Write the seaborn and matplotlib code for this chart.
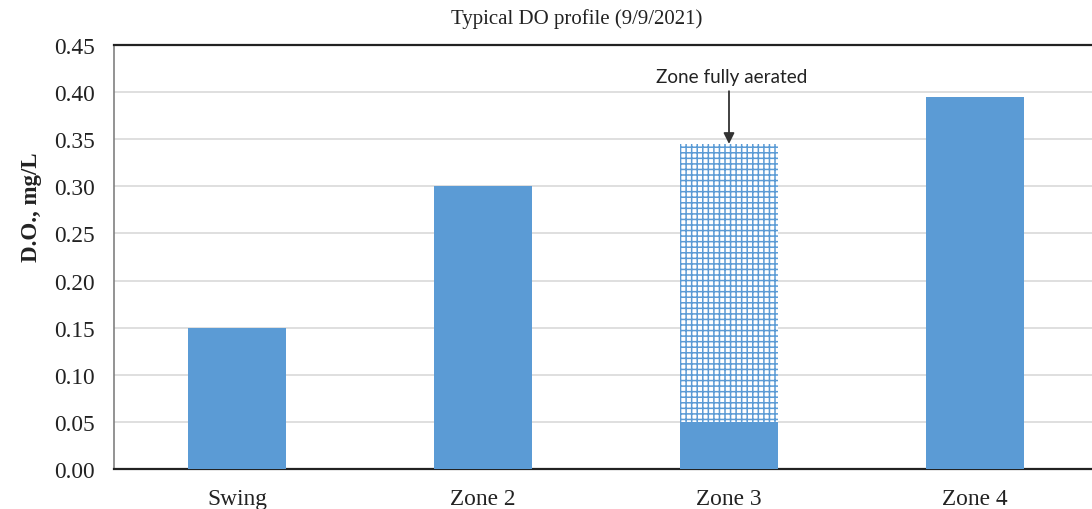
import matplotlib
matplotlib.use("Agg")
import matplotlib.pyplot as plt
import seaborn as sns
import pandas as pd

categories = ["Swing", "Zone 2", "Zone 3", "Zone 4"]
do_values = [0.15, 0.30, 0.05, 0.395]
aerated_total = [0.0, 0.0, 0.345, 0.0]
title = "Typical DO profile (9/9/2021)"
ylabel = "D.O., mg/L"
note = "Zone fully aerated"
yticks = [0.00, 0.05, 0.10, 0.15, 0.20, 0.25, 0.30, 0.35, 0.40, 0.45]

sns.set_theme(style="white")
plt.rcParams['font.family'] = ['Liberation Serif', 'DejaVu Serif']
plt.rcParams['hatch.linewidth'] = 1.1
plt.rcParams['hatch.color'] = '#5B9BD5'

df = pd.DataFrame({"cat": categories, "val": do_values, "tot": aerated_total})

fig = plt.figure(figsize=(10.92, 5.10), dpi=100)
ax = fig.add_axes([114/1092, 1-470/510, 984/1092, 424/510])

blue = "#5B9BD5"
sns.barplot(data=df, x="cat", y="tot", ax=ax, color="white", saturation=1,
            width=0.4, hatch="+++", edgecolor=blue, linewidth=0, zorder=2)
sns.barplot(data=df, x="cat", y="val", ax=ax, color=blue, saturation=1,
            width=0.4, linewidth=0, zorder=3)

ax.set_ylim(0, 0.45)
ax.set_xlim(-0.5, 3.5)
ax.set_yticks(yticks)
ax.set_yticklabels([f"{t:.2f}" for t in yticks])
ax.yaxis.grid(True, color="#D9D9D9", linewidth=1.2)
ax.set_axisbelow(True)
ax.tick_params(axis="both", labelsize=16.8, length=0, colors="#222222")
ax.tick_params(axis="y", pad=14)
ax.tick_params(axis="x", pad=14)
ax.set_xlabel("")
ax.set_ylabel("")

for s in ["top", "bottom"]:
    ax.spines[s].set_visible(True)
    ax.spines[s].set_color("#222222")
    ax.spines[s].set_linewidth(1.6)
ax.spines["left"].set_color("#808080")
ax.spines["left"].set_linewidth(1.2)
ax.spines["right"].set_visible(False)

fig.text(577/1092, 1-19/510, title, ha="center", va="center", fontsize=15, color="#222222")
fig.text(31/1092, 1-207/510, ylabel, ha="center", va="center", rotation=90,
         fontsize=16.5, fontweight="bold", color="#222222")

ax.text(2.01, 0.417, note, ha="center", va="center", fontsize=13.6,
        family=["Lato", "DejaVu Sans"], color="#222222")
ax.annotate("", xy=(2, aerated_total[2]), xytext=(2, 0.401),
            arrowprops=dict(arrowstyle="-|>", color="#333333", lw=1.3,
                            shrinkA=0, shrinkB=0, mutation_scale=16))

fig.savefig("out.png", dpi=100)
